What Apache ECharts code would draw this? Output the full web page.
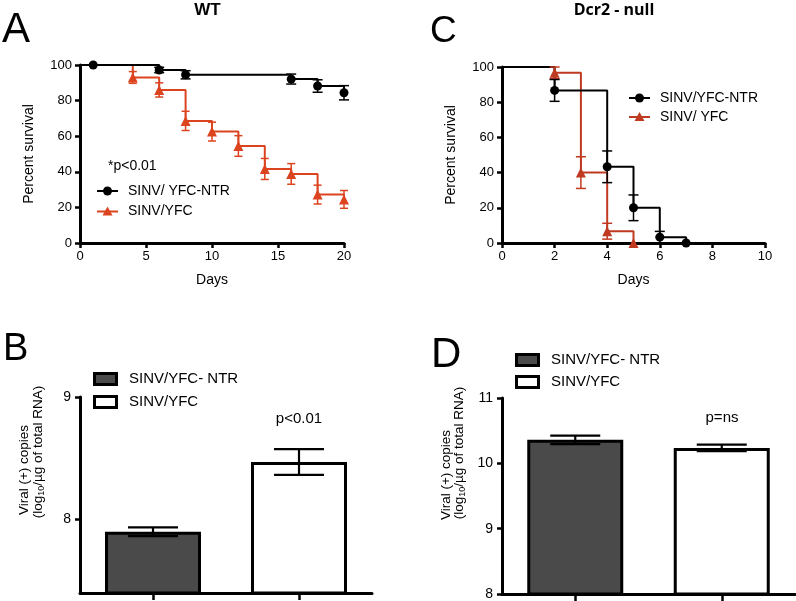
<!DOCTYPE html>
<html><head><meta charset="utf-8">
<script src="https://cdn.jsdelivr.net/npm/echarts@6/dist/echarts.min.js"></script>
<style>html,body{margin:0;padding:0;background:#fff}#c{width:796px;height:601px}</style>
</head><body><div id="c"></div><script>
const FONT = "'Liberation Sans', Arial, Helvetica, sans-serif";

// ---- Panel A (WT) survival ----
const wtNtrDays = [1, 6, 8, 16, 18, 20];
const wtNtrSurv = [100, 97.2, 94.5, 92.1, 88.2, 84.4];
const wtNtrErr  = [0, 1.5, 2.3, 2.8, 3.5, 4.0];
const wtYfcDays = [4, 6, 8, 10, 12, 14, 16, 18, 20];
const wtYfcSurv = [93, 86, 68.6, 62.6, 54.5, 41.6, 38.8, 27.2, 24.5];
const wtYfcErr  = [3.3, 4.0, 5.4, 5.3, 5.8, 5.9, 5.8, 5.3, 5.0];

// ---- Panel C (Dcr2 - null) survival ----
const dcrNtrDays = [2, 4, 5, 6, 7];
const dcrNtrSurv = [86.7, 43.3, 20, 3.3, 0];
const dcrNtrErr  = [6.2, 9.0, 7.3, 3.3, 0];
const dcrYfcDays = [2, 3, 4, 5];
const dcrYfcSurv = [96.7, 40, 6.7, 0];
const dcrYfcErr  = [3.3, 9.0, 4.5, 0];

// ---- Panels B / D viral copies ----
const barCategories = ['SINV/YFC- NTR', 'SINV/YFC'];
const wtCopies = [7.90, 8.47];
const wtCopiesErr = [0.035, 0.105];
const dcrCopies = [10.36, 10.235];
const dcrCopiesErr = [0.065, 0.05];

const RED_A = '#dc4420';
const RED_C = '#c03a22';
const DARK = '#4a4a4a';

function stepData(days, surv) {
  return [[0, 100]].concat(days.map((d, i) => [d, surv[i]]));
}
function pts(days, surv) { return days.map((d, i) => [d, surv[i]]); }
function errData(xs, vals, errs) {
  const out = [];
  xs.forEach((x, i) => { if (errs[i] > 0) out.push([x, vals[i] - errs[i], vals[i] + errs[i]]); });
  return out;
}
function errRender(capHalf, color, lw) {
  return function (params, api) {
    const x = api.value(0), lo = api.value(1), hi = api.value(2);
    const p1 = api.coord([x, lo]), p2 = api.coord([x, hi]);
    const style = { stroke: color, lineWidth: lw, fill: null };
    return { type: 'group', children: [
      { type: 'line', shape: { x1: p1[0], y1: p1[1], x2: p2[0], y2: p2[1] }, style },
      { type: 'line', shape: { x1: p1[0] - capHalf, y1: p1[1], x2: p1[0] + capHalf, y2: p1[1] }, style },
      { type: 'line', shape: { x1: p2[0] - capHalf, y1: p2[1], x2: p2[0] + capHalf, y2: p2[1] }, style }
    ]};
  };
}

const axisTxt = { fontFamily: FONT, fontSize: 13, color: '#000' };
function kmX(gi, max, interval) {
  return { gridIndex: gi, type: 'value', min: 0, max: max, interval: interval,
    name: 'Days', nameLocation: 'middle', nameGap: 30,
    nameTextStyle: { fontFamily: FONT, fontSize: 14, color: '#000' },
    axisLine: { show: true, onZero: false, lineStyle: { color: '#000', width: 3 } },
    axisTick: { show: true, length: 5, lineStyle: { color: '#000', width: 2.5 } },
    axisLabel: Object.assign({ margin: 7 }, axisTxt),
    splitLine: { show: false } };
}
function kmY(gi) {
  return { gridIndex: gi, type: 'value', min: 0, max: 100, interval: 20,
    name: 'Percent survival', nameLocation: 'middle', nameGap: 44,
    nameTextStyle: { fontFamily: FONT, fontSize: 14, color: '#000' },
    axisLine: { show: true, onZero: false, lineStyle: { color: '#000', width: 3 } },
    axisTick: { show: true, length: 5, lineStyle: { color: '#000', width: 2.5 } },
    axisLabel: Object.assign({ margin: 8 }, axisTxt),
    splitLine: { show: false } };
}
function barX(gi) {
  return { gridIndex: gi, type: 'category', data: barCategories,
    axisLine: { show: true, onZero: false, lineStyle: { color: '#000', width: 3 } },
    axisTick: { show: true, alignWithLabel: true, length: 7, lineStyle: { color: '#000', width: 2.5 } },
    axisLabel: { show: false }, splitLine: { show: false } };
}
function barY(gi, min, max, ticks) {
  return { gridIndex: gi, type: 'value', min: min, max: max,
    axisLine: { show: true, onZero: false, lineStyle: { color: '#000', width: 3 } },
    axisTick: { show: true, length: 5, customValues: ticks, lineStyle: { color: '#000', width: 2.5 } },
    axisLabel: Object.assign({ margin: 9, customValues: ticks }, axisTxt, { fontSize: 14 }),
    splitLine: { show: false } };
}

function stepLine(name, xi, data, color, lw) {
  return { name: name, type: 'line', xAxisIndex: xi, yAxisIndex: xi, step: 'end',
    data: data, showSymbol: false, symbol: 'none', lineStyle: { color: color, width: lw },
    animation: false, silent: true, z: 3 };
}
function markers(name, xi, data, color, symbol, size) {
  return { name: name, type: 'scatter', xAxisIndex: xi, yAxisIndex: xi, data: data,
    symbol: symbol, symbolSize: size, itemStyle: { color: color, opacity: 1 },
    animation: false, silent: true, z: 5 };
}
function errSeries(xi, data, capHalf, color, lw) {
  return { type: 'custom', xAxisIndex: xi, yAxisIndex: xi, data: data,
    renderItem: errRender(capHalf, color, lw), animation: false, silent: true, z: 4 };
}

function barSeries(xi, vals) {
  return { type: 'bar', xAxisIndex: xi, yAxisIndex: xi, barWidth: 96,
    data: vals.map((v, i) => ({ value: v, itemStyle: { color: i === 0 ? DARK : '#fff', borderColor: '#000', borderWidth: 3 } })),
    animation: false, silent: true, z: 2 };
}
function barErr(xi, vals, errs) {
  return errSeries(xi, vals.map((v, i) => [i, v - errs[i], v + errs[i]]), 25, '#000', 2.2);
}

function kmLegend(x, y, color, symbol, label) {
  const children = [
    { type: 'line', shape: { x1: x, y1: y, x2: x + 21, y2: y }, style: { stroke: color, lineWidth: 2 } }
  ];
  if (symbol === 'circle') {
    children.push({ type: 'circle', shape: { cx: x + 10.5, cy: y, r: 4.5 }, style: { fill: color } });
  } else {
    children.push({ type: 'polygon', shape: { points: [[x + 10.5, y - 5], [x + 15.5, y + 4], [x + 5.5, y + 4]] }, style: { fill: color } });
  }
  children.push({ type: 'text', x: x + 31, y: y, style: { text: label, fontFamily: FONT, fontSize: 14, fill: '#000', align: 'left', verticalAlign: 'middle' } });
  return { type: 'group', children: children };
}
function barLegend(x, y, fill, label) {
  return { type: 'group', children: [
    { type: 'rect', shape: { x: x + 1.5, y: y - 5.5, width: 22, height: 11 }, style: { fill: fill, stroke: '#000', lineWidth: 3 } },
    { type: 'text', x: x + 36, y: y, style: { text: label, fontFamily: FONT, fontSize: 15, fill: '#000', align: 'left', verticalAlign: 'middle' } }
  ]};
}
function txt(x, y, s, size, opts) {
  return { type: 'text', x: x, y: y, style: Object.assign({ text: s, fontFamily: FONT, fontSize: size, fill: '#000', align: 'center', verticalAlign: 'middle' }, opts || {}) };
}
function yLabel(x, y, s) {
  return { type: 'text', x: x, y: y, rotation: Math.PI / 2,
    style: { text: s, fontFamily: FONT, fontSize: 13.5, fill: '#000', align: 'center', verticalAlign: 'middle', lineHeight: 16,
      rich: { s: { fontFamily: FONT, fontSize: 9, lineHeight: 9, verticalAlign: 'bottom', fill: '#000' },
              m: { fontFamily: FONT, fontSize: 13.5, lineHeight: 16, fill: '#000' } } } };
}

const chart = echarts.init(document.getElementById('c'), null, { renderer: 'canvas' });
chart.setOption({
  backgroundColor: '#fff',
  animation: false,
  grid: [
    { left: 80, top: 65, width: 264, height: 178 },
    { left: 502, top: 67, width: 263, height: 176 },
    { left: 80, top: 397, width: 292, height: 196 },
    { left: 502, top: 398, width: 293, height: 196 }
  ],
  xAxis: [kmX(0, 20, 5), kmX(1, 10, 2), barX(2), barX(3)],
  yAxis: [kmY(0), kmY(1), barY(2, 7.4, 9, [8, 9]), barY(3, 8, 11, [8, 9, 10, 11])],
  series: [
    // Panel A
    stepLine('SINV/YFC', 0, stepData(wtYfcDays, wtYfcSurv), RED_A, 2),
    errSeries(0, errData(wtYfcDays, wtYfcSurv, wtYfcErr), 4, RED_A, 1.5),
    markers('SINV/YFC', 0, pts(wtYfcDays, wtYfcSurv), RED_A, 'triangle', 10),
    stepLine('SINV/ YFC-NTR', 0, stepData(wtNtrDays, wtNtrSurv), '#000', 2),
    errSeries(0, errData(wtNtrDays, wtNtrSurv, wtNtrErr), 5, '#000', 1.5),
    markers('SINV/ YFC-NTR', 0, pts(wtNtrDays, wtNtrSurv), '#000', 'circle', 9),
    // Panel C
    stepLine('SINV/ YFC', 1, stepData(dcrYfcDays, dcrYfcSurv), RED_C, 2),
    errSeries(1, errData(dcrYfcDays, dcrYfcSurv, dcrYfcErr), 5, RED_C, 1.5),
    markers('SINV/ YFC', 1, pts(dcrYfcDays, dcrYfcSurv), RED_C, 'triangle', 10),
    stepLine('SINV/YFC-NTR', 1, stepData(dcrNtrDays, dcrNtrSurv), '#000', 2),
    errSeries(1, errData(dcrNtrDays, dcrNtrSurv, dcrNtrErr), 5, '#000', 1.5),
    markers('SINV/YFC-NTR', 1, pts(dcrNtrDays, dcrNtrSurv), '#000', 'circle', 9),
    // Panel B
    barSeries(2, wtCopies),
    barErr(2, wtCopies, wtCopiesErr),
    // Panel D
    barSeries(3, dcrCopies),
    barErr(3, dcrCopies, dcrCopiesErr)
  ],
  graphic: [
    txt(2, 30, 'A', 42, { align: 'left' }),
    txt(3, 350, 'B', 38, { align: 'left' }),
    txt(430, 32, 'C', 37, { align: 'left' }),
    txt(431, 355, 'D', 42, { align: 'left' }),
    txt(207.5, 10, 'WT', 17, { fontWeight: 'bold' }),
    txt(614, 10, 'Dcr2 - null', 16, { fontWeight: 'bold', fontFamily: "'Open Sans', " + FONT }),
    txt(108, 166, '*p<0.01', 14, { align: 'left' }),
    kmLegend(97, 191, '#000', 'circle', 'SINV/ YFC-NTR'),
    kmLegend(97, 211.5, RED_A, 'triangle', 'SINV/YFC'),
    kmLegend(629, 98, '#000', 'circle', 'SINV/YFC-NTR'),
    kmLegend(629, 117, RED_C, 'triangle', 'SINV/ YFC'),
    barLegend(93, 379, DARK, 'SINV/YFC- NTR'),
    barLegend(93, 402, '#fff', 'SINV/YFC'),
    barLegend(515, 360, DARK, 'SINV/YFC- NTR'),
    barLegend(515, 382, '#fff', 'SINV/YFC'),
    txt(299, 419, 'p<0.01', 15),
    txt(722, 418, 'p=ns', 15),
    yLabel(24.5, 470, 'Viral (+) copies'),
    yLabel(38, 452, '{m|(log}{s|10}{m|/µg of total RNA)}'),
    yLabel(446, 475, 'Viral (+) copies'),
    yLabel(459.5, 453, '{m|(log}{s|10}{m|/µg of total RNA)}')
  ]
});
</script></body></html>
